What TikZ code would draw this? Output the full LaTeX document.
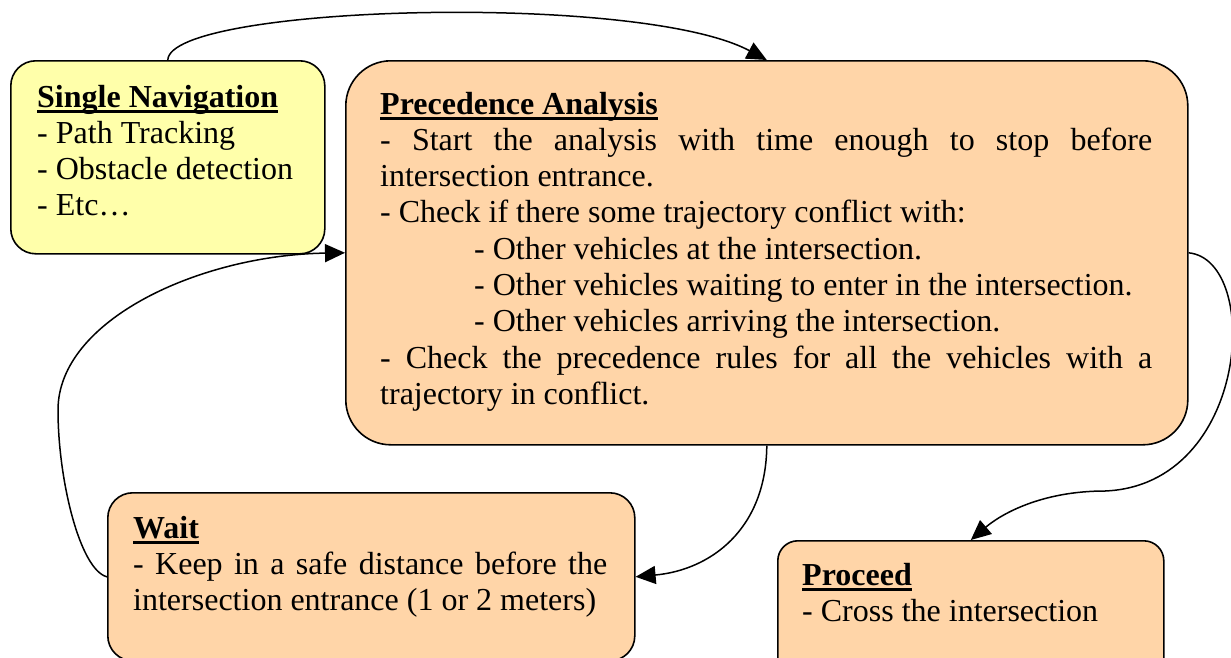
\documentclass[tikz,border=0pt]{standalone}
\usepackage{fontspec}
\setmainfont{Liberation Serif}
\usetikzlibrary{arrows.meta,calc}
\definecolor{navyellow}{HTML}{FFFFAA}
\definecolor{stateorange}{HTML}{FFD5A8}
% bold title with a heavy underline
\newlength\ttlwd
\newcommand\ttlu[1]{\leavevmode\settowidth\ttlwd{\textbf{#1}}\textbf{#1}\llap{\rule[-6pt]{\ttlwd}{3.2pt}}}
\newcommand\boxfont{\fontsize{32}{36.3}\selectfont\frenchspacing\tolerance=10000\hyphenpenalty=10000}
\begin{document}
\begin{tikzpicture}[x=1pt,y=-1pt,
  statebox/.style={draw=black, line width=1.6pt, inner sep=0pt, anchor=north west},
  navbox/.style={statebox, fill=navyellow},
  orbox/.style={statebox, fill=stateorange},
  txt/.style={anchor=base west, inner sep=0pt, font=\boxfont},
  conn/.style={line width=1.5pt, -{Triangle[length=20pt,width=18pt]}}]
\useasboundingbox (0,0) rectangle (1231,657);
\clip (0,0) rectangle (1231,657);

% state boxes
\node[navbox, minimum width=314pt, minimum height=193pt, rounded corners=25pt] (sn) at (10,60) {};
\node[orbox, minimum width=842pt, minimum height=384pt, rounded corners=45pt] (pa) at (345,60) {};
\node[orbox, minimum width=527pt, minimum height=168pt, rounded corners=25pt] (wait) at (107,492) {};
\node[orbox, minimum width=386pt, minimum height=150pt, rounded corners=20pt] (pr) at (777,540) {};

% box texts
\node[txt] (snt) at ($(sn.north west)+(27,47)$) {\begin{minipage}[t]{280pt}
\ttlu{Single Navigation}\par
- Path Tracking\par
- Obstacle detection\par
- Etc…\end{minipage}};

\node[txt] (pat) at ($(pa.north west)+(35,54)$) {\begin{minipage}[t]{772pt}
\ttlu{Precedence Analysis}\par
- Start the analysis with time enough to stop before\linebreak intersection entrance.\par
- Check if there some trajectory conflict with:\par
\hspace*{94pt}- Other vehicles at the intersection.\par
\hspace*{94pt}- Other vehicles waiting to enter in the intersection.\par
\hspace*{94pt}- Other vehicles arriving the intersection.\par
- Check the precedence rules for all the vehicles with a\linebreak trajectory in conflict.\end{minipage}};

\node[txt] (waitt) at ($(wait.north west)+(26,46)$) {\begin{minipage}[t]{474pt}
\ttlu{Wait}\par
- Keep in a safe distance before the\linebreak intersection entrance (1 or 2 meters)\end{minipage}};

\node[txt] (prt) at ($(pr.north west)+(25,45)$) {\begin{minipage}[t]{340pt}
\ttlu{Proceed}\par
- Cross the intersection\end{minipage}};

% transitions
\draw[conn] (sn.north) .. controls (170,5) and (640,-8) .. (pa.north);
\draw[conn] (pa.east) .. controls (1262,260) and (1250,485) .. (1105,491)
            .. controls (1040,491) and (1000,515) .. (pr.north);
\draw[conn] (pa.south) .. controls (766,530) and (710,570) .. (wait.east);
\draw[conn] (wait.west) .. controls (80,570) and (58,480) .. (58,410)
            .. controls (58,320) and (200,255) .. (pa.west);
\end{tikzpicture}
\end{document}
